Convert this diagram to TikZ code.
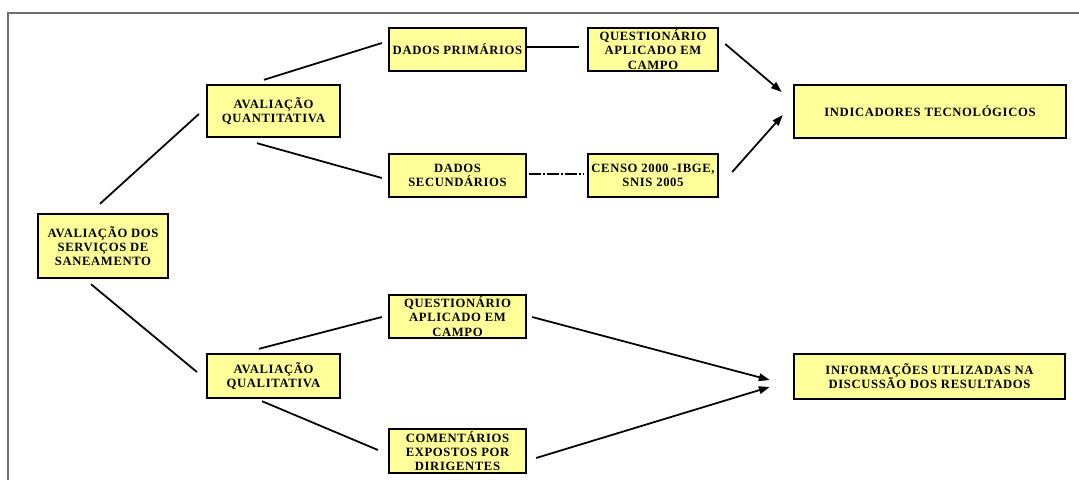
\documentclass[tikz,border=0pt]{standalone}
\usepackage{fontspec}
\setmainfont{Liberation Serif}
\newfontfamily\boxfont{Liberation Serif}[LetterSpace=5]
\usetikzlibrary{calc,arrows.meta,shadows}
\definecolor{boxfill}{HTML}{FFFF99}
\definecolor{framegray}{HTML}{6E6E6E}
\begin{document}
\begin{tikzpicture}[x=0.025cm,y=0.025cm,
  box/.style={draw=black, line width=1.7pt, fill=boxfill, rectangle,
    align=center, inner sep=0pt, text=black,
    font=\boxfont\bfseries\fontsize{9}{10.1}\selectfont,
    drop shadow={shadow xshift=0.5pt, shadow yshift=-0.5pt, fill=black, opacity=1}},
  link/.style={line width=1.25pt, draw=black},
  arr/.style={link, -{Triangle[length=2.7mm,width=1.9mm]}},
  dashdot/.style={link, dash pattern=on 8.5pt off 1.4pt on 1.4pt off 1.4pt},
]
\useasboundingbox (0,0) rectangle (1079,480);

% outer frame (top and left edges)
\draw[framegray, line width=1.4pt] (1079,467) -- (8,467) -- (8,0);

% boxes
\node[box, minimum width=3.25cm, minimum height=1.6cm]  (san)   at (103,234)   {AVALIAÇÃO DOS\\SERVIÇOS DE\\SANEAMENTO};
\node[box, minimum width=3.32cm, minimum height=1.3cm]  (quant) at (273.5,369) {AVALIAÇÃO\\QUANTITATIVA};
\node[box, minimum width=3.42cm, minimum height=1.08cm] (dp)    at (457.5,430.5) {DADOS PRIMÁRIOS};
\node[box, minimum width=3.25cm, minimum height=1.08cm] (q1)    at (653,430.5) {QUESTIONÁRIO\\APLICADO EM\\CAMPO};
\node[box, minimum width=3.42cm, minimum height=1.08cm] (ds)    at (457.5,304.5) {DADOS\\SECUNDÁRIOS};
\node[box, minimum width=3.25cm, minimum height=1.08cm] (censo) at (653,304.5) {CENSO 2000 -IBGE,\\SNIS 2005};
\node[box, minimum width=6.8cm,  minimum height=1.33cm] (ind)   at (930,368.5) {INDICADORES TECNOLÓGICOS};
\node[box, minimum width=3.32cm, minimum height=1.1cm]  (qual)  at (273.5,104) {AVALIAÇÃO\\QUALITATIVA};
\node[box, minimum width=3.42cm, minimum height=1.08cm] (q2)    at (457.5,163.5) {QUESTIONÁRIO\\APLICADO EM\\CAMPO};
\node[box, minimum width=3.42cm, minimum height=1.1cm]  (com)   at (457.5,29)  {COMENTÁRIOS\\EXPOSTOS POR\\DIRIGENTES};
\node[box, minimum width=6.78cm, minimum height=1.13cm] (info)  at (929.5,103.5) {INFORMAÇÕES UTLIZADAS NA\\DISCUSSÃO DOS RESULTADOS};

% tree branches
\draw[link] ($(san.north)+(-3,9)$)      -- ($(quant.west)+(-7,-3)$);
\draw[link] ($(quant.north)+(-9.5,4)$)  -- ($(dp.west)+(-6,6.5)$);
\draw[link] ($(quant.south)+(-16.5,-5)$) -- ($(ds.west)+(-6,-2.5)$);
\draw[link] ($(san.south)+(-12,-5)$)    -- ($(qual.west)+(-9,4)$);
\draw[link] ($(qual.north)+(-14.5,4)$)  -- ($(q2.west)+(-6,-0.5)$);
\draw[link] ($(qual.south)+(-11.5,-2)$) -- ($(com.west)+(-10,1)$);

% sources
\draw[link]    ($(dp.east)+(0,2.5)$)  -- ($(q1.west)+(-8,2.5)$);
\draw[dashdot] ($(ds.east)+(2,1.5)$)  -- ($(censo.west)+(-4,1.5)$);

% results
\draw[arr] ($(q1.east)+(6,5.5)$)     -- ($(ind.west)+(-11,19.5)$);
\draw[arr] ($(censo.east)+(13,3.5)$) -- ($(ind.west)+(-10,-3.5)$);
\draw[arr] ($(q2.east)+(5,-0.5)$)    -- ($(info.west)+(-23,-3.5)$);
\draw[arr] ($(com.east)+(9,-7)$)     -- ($(info.west)+(-23,-10.5)$);
\end{tikzpicture}
\end{document}
